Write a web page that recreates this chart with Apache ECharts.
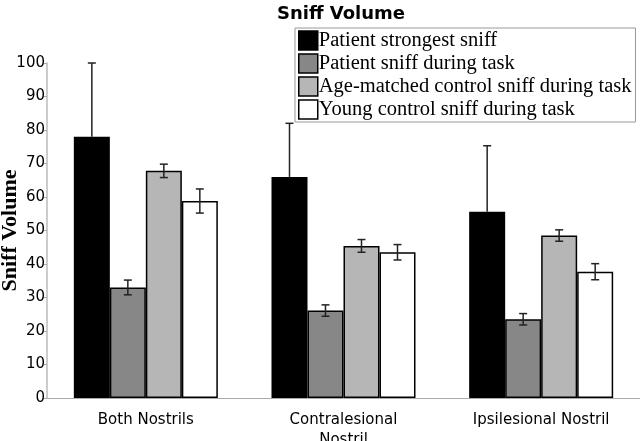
<!DOCTYPE html>
<html>
<head>
<meta charset="utf-8">
<script src="https://cdn.jsdelivr.net/npm/echarts@6/dist/echarts.min.js"></script>
<style>
  html, body { margin: 0; padding: 0; background: #fff; }
  #chart { width: 640px; height: 441px; }
</style>
</head>
<body>
<div id="chart"></div>
<script>
// data
const categories = ['Both Nostrils', 'Contralesional\nNostril', 'Ipsilesional Nostril'];
const seriesNames = [
  'Patient strongest sniff',
  'Patient sniff during task',
  'Age-matched control sniff during task',
  'Young control sniff during task'
];
const strongest = [78, 66, 55.6];
const strongestErr = [22, 16, 19.7];
const duringTask = [33, 26.1, 23.5];
const duringTaskErr = [2.2, 1.7, 1.7];
const ageMatched = [67.8, 45.4, 48.5];
const ageMatchedErr = [2, 1.9, 1.7];
const young = [58.8, 43.5, 37.7];
const youngErr = [3.6, 2.3, 2.4];
const yTicks = [0, 10, 20, 30, 40, 50, 60, 70, 80, 90, 100];

const values = [strongest, duringTask, ageMatched, young];
const errors = [strongestErr, duringTaskErr, ageMatchedErr, youngErr];
const colors = ['#000000', '#878787', '#b6b6b6', '#ffffff'];
const BAR_W = 36;

const chart = echarts.init(document.getElementById('chart'));

// error bar as custom series; only upward whisker for strongest sniff
function errorSeries(idx) {
  return {
    type: 'custom',
    z: 5,
    silent: true,
    data: values[idx].map((v, i) => [i, v, errors[idx][i]]),
    renderItem: function (params, api) {
      const cat = api.value(0);
      const v = api.value(1);
      const e = api.value(2);
      const off = (idx - 1.5) * BAR_W;
      const top = api.coord([cat, v + e]);
      const bot = api.coord([cat, idx === 0 ? v : v - e]);
      const x = top[0] + off;
      const style = { stroke: '#222', lineWidth: 1.5 };
      const children = [
        { type: 'line', shape: { x1: x, y1: top[1], x2: x, y2: bot[1] }, style: style },
        { type: 'line', shape: { x1: x - 4, y1: top[1], x2: x + 4, y2: top[1] }, style: style }
      ];
      if (idx !== 0) {
        children.push({ type: 'line', shape: { x1: x - 4, y1: bot[1], x2: x + 4, y2: bot[1] }, style: style });
      }
      return { type: 'group', children: children };
    }
  };
}

const barSeries = values.map((vals, idx) => ({
  name: seriesNames[idx],
  type: 'bar',
  barWidth: BAR_W,
  barGap: '0%',
  data: vals,
  itemStyle: { color: colors[idx], borderColor: '#000', borderWidth: 1.5 }
}));

const option = {
  animation: false,
  title: {
    text: 'Sniff Volume',
    left: 336,
    top: 0,
    textAlign: 'center',
    textStyle: { fontFamily: 'DejaVu Sans', fontWeight: 'bold', fontSize: 18, color: '#000' }
  },
  legend: {
    orient: 'vertical',
    left: 295,
    top: 28,
    width: 342,
    padding: [2, 4, 2, 3],
    itemGap: 2,
    itemWidth: 19,
    itemHeight: 19,
    borderColor: '#999',
    borderWidth: 1,
    icon: 'rect',
    data: seriesNames,
    itemStyle: { borderColor: '#000', borderWidth: 1.5 },
    textStyle: { fontFamily: 'Liberation Serif', fontSize: 20.5, color: '#000', padding: [0, 0, 0, -4] }
  },
  grid: { left: 47, right: 0, top: 63, bottom: 43, outerBoundsMode: 'none', containLabel: false },
  xAxis: {
    type: 'category',
    data: categories,
    axisLine: { lineStyle: { color: '#aaa', width: 1 } },
    axisTick: { lineStyle: { color: '#aaa' }, length: 4 },
    axisLabel: { fontFamily: 'DejaVu Sans', fontSize: 15, color: '#000', margin: 12, lineHeight: 20 }
  },
  yAxis: {
    type: 'value',
    min: 0,
    max: 100,
    interval: 10,
    name: 'Sniff Volume',
    nameLocation: 'middle',
    nameGap: 26,
    nameMoveOverlap: false,
    nameTextStyle: { fontFamily: 'Liberation Serif', fontWeight: 'bold', fontSize: 22, color: '#000' },
    splitLine: { show: false },
    axisLine: { show: true, lineStyle: { color: '#bbb', width: 1.5 } },
    axisTick: { show: true, length: 3, lineStyle: { color: '#aaa' } },
    axisLabel: {
      fontFamily: 'DejaVu Sans', fontSize: 15, color: '#000', margin: 2,
      formatter: v => (yTicks.includes(v) ? String(v) : '')
    }
  },
  series: barSeries.concat([0, 1, 2, 3].map(errorSeries))
};

chart.setOption(option);
</script>
</body>
</html>
